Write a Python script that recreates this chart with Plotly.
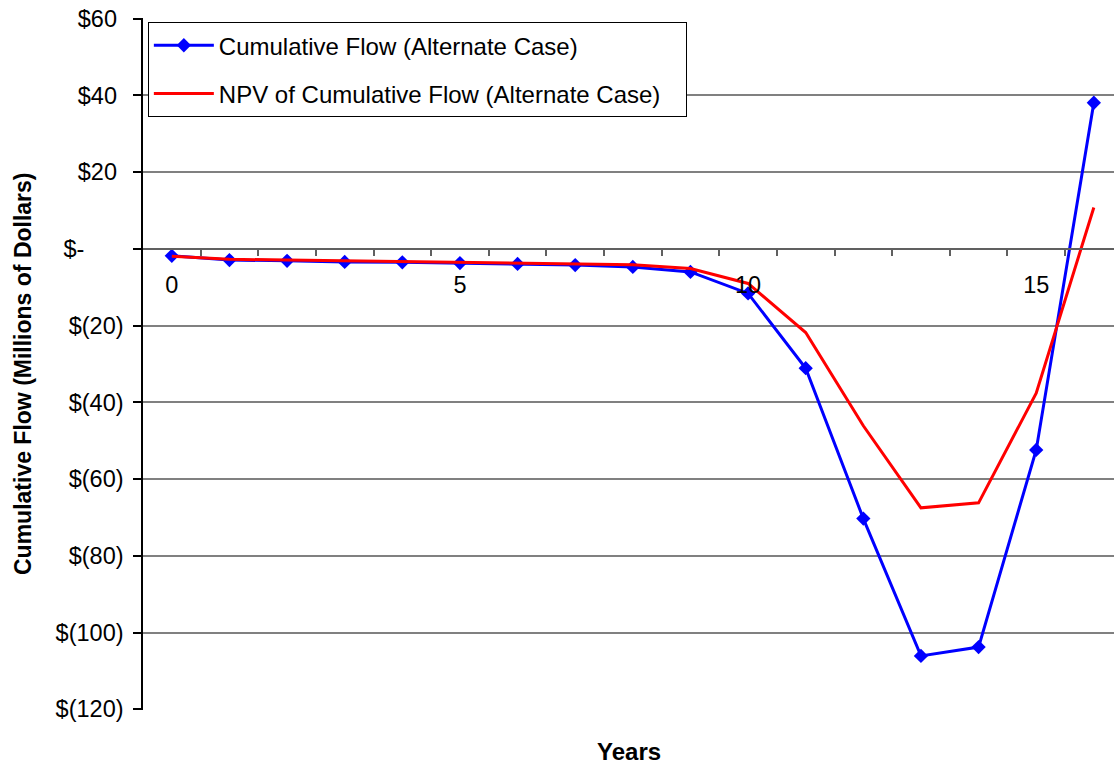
import plotly.graph_objects as go

# Project years and cumulative cash flows (millions of dollars)
years = list(range(17))
cumulative_flow = [-1.8, -2.9, -3.1, -3.4, -3.5, -3.7, -3.9, -4.2, -4.7, -6.0,
                   -11.6, -31.1, -70.3, -106.1, -103.8, -52.4, 38.1]
npv_cumulative_flow = [-1.9, -2.7, -2.9, -3.1, -3.3, -3.4, -3.6, -3.8, -4.1, -5.1,
                       -9.0, -21.8, -46.1, -67.5, -66.2, -37.6, 10.8]

x_tick_vals = [0, 5, 10, 15]
x_boundary_ticks = [i + 0.5 for i in range(16)]
y_tick_vals = [60, 40, 20, 0, -20, -40, -60, -80, -100, -120]

NB = "\u00a0"


def accounting(v):
    # Excel-style accounting format: "$60 ", "$(20)", "$-    "
    if v > 0:
        return f"${v}{NB}"
    if v < 0:
        return f"$({-v})"
    return f"$-{NB * 6}"


y_tick_text = [accounting(v) for v in y_tick_vals]

FONT = "Liberation Sans, Arial, sans-serif"

fig = go.Figure()
fig.add_trace(go.Scatter(
    x=years, y=cumulative_flow, mode="lines+markers",
    name="Cumulative Flow (Alternate Case)" + NB * 3,
    line=dict(color="#0000FF", width=3),
    marker=dict(symbol="diamond", size=11, color="#0000FF"),
    legendgroup="a",
))
fig.add_trace(go.Scatter(
    x=years, y=npv_cumulative_flow, mode="lines",
    name="NPV of Cumulative Flow (Alternate Case)" + NB * 3,
    line=dict(color="#FF0000", width=3),
    legendgroup="b",
))

fig.update_layout(
    width=1114, height=764,
    margin=dict(l=143, r=0, t=18, b=54),
    plot_bgcolor="white", paper_bgcolor="white",
    font=dict(family=FONT, size=23, color="black"),
    showlegend=True,
    legend=dict(
        x=0.005, y=0.994, xanchor="left", yanchor="top",
        bordercolor="black", borderwidth=1, bgcolor="white",
        font=dict(size=24), tracegroupgap=14, itemwidth=60,
    ),
    xaxis=dict(
        range=[-0.5, 16.35],
        anchor="free", position=120 / 180,
        tickmode="array", tickvals=x_tick_vals,
        ticks="", ticklabelstandoff=15,
        showline=True, linecolor="#606060", linewidth=1.5,
        showgrid=False, zeroline=False,
        minor=dict(tickmode="array", tickvals=x_boundary_ticks,
                   ticks="outside", ticklen=7, tickcolor="#606060", tickwidth=1.5),
        tickfont=dict(size=23.5),
    ),
    yaxis=dict(
        range=[-120.2, 60.2],
        tickmode="array", tickvals=y_tick_vals, ticktext=y_tick_text,
        ticks="outside", ticklen=8, tickcolor="black", tickwidth=1.5,
        ticklabelstandoff=5,
        showline=True, linecolor="black", linewidth=1.5,
        showgrid=True, gridcolor="#808080", gridwidth=1.5,
        zeroline=False,
        tickfont=dict(size=23.5),
    ),
    annotations=[
        dict(text="<b>Years</b>", xref="paper", yref="paper",
             x=0.5, y=-(751 - 710) / 692, xanchor="center", yanchor="middle",
             showarrow=False, font=dict(size=24)),
        dict(text="<b>Cumulative Flow (Millions of Dollars)</b>",
             xref="paper", yref="paper", textangle=-90,
             x=-(143 - 23) / 971, y=1 - (374 - 18) / 692,
             xanchor="center", yanchor="middle",
             showarrow=False, font=dict(size=23)),
    ],
)

fig.write_html("out.html")
